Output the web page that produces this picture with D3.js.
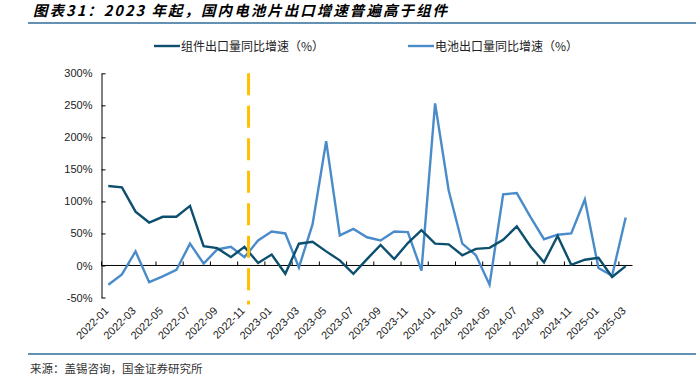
<!DOCTYPE html>
<html>
<head>
<meta charset="utf-8">
<script src="https://d3js.org/d3.v7.min.js"></script>
<style>
	body { margin: 0; background: #fff; }
	svg { display: block; font-family: "Liberation Sans", Arial, sans-serif; }
	.cjk { font-family: "Noto Sans CJK SC", sans-serif; }
	.axis text { font-size: 11px; fill: #222; }
</style>
</head>
<body>
<script>
// ---------------------------------------------------------------
// data
// ---------------------------------------------------------------
var months = [
	"2022-01","2022-02","2022-03","2022-04","2022-05","2022-06","2022-07","2022-08","2022-09","2022-10","2022-11","2022-12",
	"2023-01","2023-02","2023-03","2023-04","2023-05","2023-06","2023-07","2023-08","2023-09","2023-10","2023-11","2023-12",
	"2024-01","2024-02","2024-03","2024-04","2024-05","2024-06","2024-07","2024-08","2024-09","2024-10","2024-11","2024-12",
	"2025-01","2025-02","2025-03"
];
// 组件出口量同比增速 (%)
var moduleGrowth = [
	124, 122, 84, 67, 76, 76, 93, 30, 27, 13, 29, 4,
	17, -13, 34, 37, 22, 8, -13, 10, 32, 10, 35, 55,
	34, 33, 16, 26, 27.5, 40, 61, 30, 5, 46, 1, 9,
	12, -18, -1
];
// 电池出口量同比增速 (%)
var cellGrowth = [
	-30, -14, 22, -26, -17, -7, 34, 3, 25, 29, 13, 39,
	53, 50, -3, 64, 194, 47, 57, 44, 39, 53, 52, -8,
	253, 117, 34, 16, -30, 111, 113, 76, 41, 48, 50, 103,
	-4, -16, 75
];
var yTicks = [-50, 0, 50, 100, 150, 200, 250, 300];
var seriesNames = ["组件出口量同比增速（%）", "电池出口量同比增速（%）"];
var markMonth = "2022-11";
var titleText = "图表31：2023 年起，国内电池片出口增速普遍高于组件";
var sourceText = "来源：盖锡咨询，国金证券研究所";

// ---------------------------------------------------------------
// layout
// ---------------------------------------------------------------
var W = 700, H = 376;
var plot = { left: 101.5, right: 632.5, top: 73.3, bottom: 297.5 };
var colDark = "#0d4f6e", colLight = "#4a8bc9", colRule = "#2f6c9a";

var svg = d3.select("body").append("svg").attr("width", W).attr("height", H);

// title + rules
svg.append("text").attr("class", "cjk")
	.attr("x", 33).attr("y", 16)
	.attr("textLength", 414).attr("lengthAdjust", "spacing")
	.style("font-size", "14.5px").style("font-weight", "bold").style("font-style", "italic")
	.text(titleText);
svg.append("line").attr("x1", 28).attr("x2", 696).attr("y1", 23).attr("y2", 23)
	.attr("stroke", colRule).attr("stroke-width", 1.4);
svg.append("line").attr("x1", 28).attr("x2", 696).attr("y1", 354).attr("y2", 354)
	.attr("stroke", colRule).attr("stroke-width", 1.4);
svg.append("text").attr("class", "cjk")
	.attr("x", 30).attr("y", 373)
	.style("font-size", "11.5px").style("fill", "#333")
	.text(sourceText);

// scales
var x = d3.scaleBand().domain(months).range([plot.left, plot.right]).padding(0);
var bw = x.bandwidth();
var cx = function(m){ return x(m) + bw / 2; };
var y = d3.scaleLinear().domain([-50, 300]).range([plot.bottom, plot.top]);

// y axis, ticks pointing inward
svg.append("g").attr("class", "axis")
	.attr("transform", "translate(" + plot.left + ",0)")
	.call(d3.axisLeft(y).tickValues(yTicks).tickFormat(function(d){ return d + "%"; })
		.tickSizeInner(-4).tickSizeOuter(0).tickPadding(9))
	.call(function(g){ g.selectAll("path, line").attr("stroke", "#000"); });

// zero line with ticks every two months (at band edges)
var tickMonths = months.filter(function(d, i){ return i % 2 === 0; });
var xg = svg.append("g").attr("class", "axis");
xg.append("line").attr("x1", plot.left).attr("x2", plot.right)
	.attr("y1", y(0)).attr("y2", y(0)).attr("stroke", "#000").attr("stroke-width", 1);
xg.selectAll(".tk").data(tickMonths).enter().append("line")
	.attr("x1", function(d){ return x(d); }).attr("x2", function(d){ return x(d); })
	.attr("y1", y(0)).attr("y2", y(0) - 4).attr("stroke", "#000");
xg.selectAll(".lbl").data(tickMonths).enter().append("text")
	.attr("transform", function(d){ return "translate(" + (cx(d) + 1) + "," + (plot.bottom + 14) + ") rotate(-45)"; })
	.attr("text-anchor", "end")
	.text(function(d){ return d; });

// series
var line = d3.line()
	.x(function(d, i){ return cx(months[i]); })
	.y(function(d){ return y(d); });

svg.append("path").datum(cellGrowth)
	.attr("d", line).attr("fill", "none")
	.attr("stroke", colLight).attr("stroke-width", 2.4).attr("stroke-linejoin", "miter");
svg.append("path").datum(moduleGrowth)
	.attr("d", line).attr("fill", "none")
	.attr("stroke", colDark).attr("stroke-width", 2.4).attr("stroke-linejoin", "miter");

// dashed marker
var mx = cx(markMonth) + bw * 0.3;
svg.append("line").attr("x1", mx).attr("x2", mx)
	.attr("y1", y(300)).attr("y2", plot.bottom + 7)
	.attr("stroke", "#ffc000").attr("stroke-width", 3)
	.attr("stroke-dasharray", "22,10.5");

// legend
var legend = [
	{ name: seriesNames[0], color: colDark, x: 154 },
	{ name: seriesNames[1], color: colLight, x: 408 }
];
var lg = svg.selectAll(".legend").data(legend).enter().append("g")
	.attr("transform", function(d){ return "translate(" + d.x + ",46)"; });
lg.append("line").attr("x1", 0).attr("x2", 26).attr("y1", 0).attr("y2", 0)
	.attr("stroke", function(d){ return d.color; }).attr("stroke-width", 2.4);
lg.append("text").attr("class", "cjk")
	.attr("x", 27).attr("y", 4.5)
	.style("font-size", "12px").style("fill", "#222")
	.text(function(d){ return d.name; });
</script>
</body>
</html>
